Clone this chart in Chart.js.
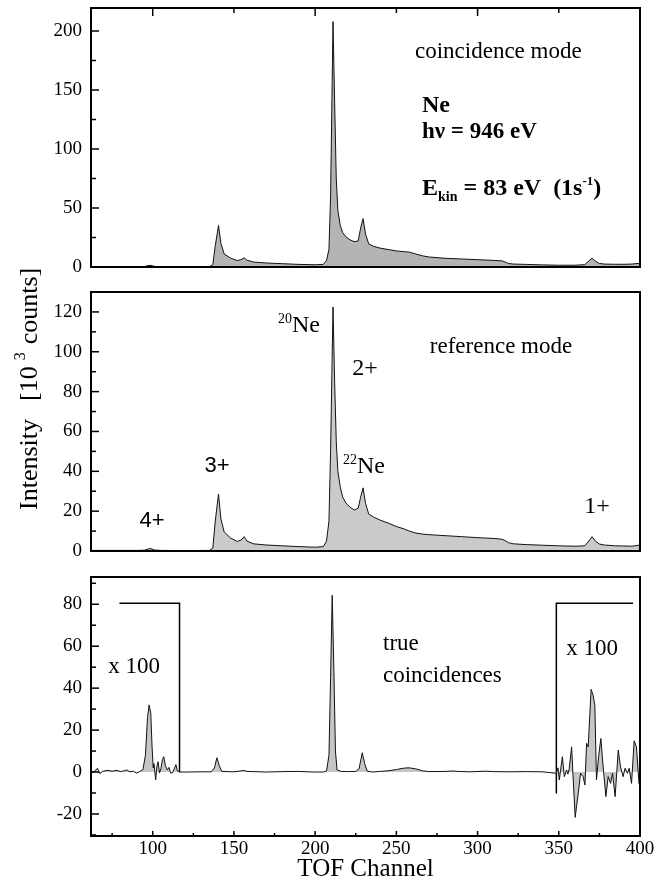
<!DOCTYPE html>
<html><head><meta charset="utf-8">
<script src="https://cdn.jsdelivr.net/npm/chart.js@4"></script>
<style>
html,body{margin:0;padding:0;background:#fff;}
#wrap{position:relative;width:667px;height:883px;overflow:hidden;}
canvas{position:absolute;left:0;}
</style></head><body>
<div id="wrap">
<canvas id="c1" width="667" height="290" style="top:0px"></canvas>
<canvas id="c2" width="667" height="315" style="top:255px"></canvas>
<canvas id="c3" width="667" height="323" style="top:560px"></canvas>
</div>
<script>
// ---------- DATA ----------
const xTicks = [100, 150, 200, 250, 300, 350, 400];
const yTicksCoinc = [0, 50, 100, 150, 200];
const yTicksRef = [0, 20, 40, 60, 80, 100, 120];
const yTicksTrue = [-20, 0, 20, 40, 60, 80];

// TOF channels for the coincidence-mode and reference-mode spectra
const channels = [
  62, 70, 80, 90, 95, 97, 99, 101, 105, 120,
  135, 137, 138.5, 140.5, 142, 144, 148, 152, 154.5, 156.3,
  158, 162, 170, 180, 190, 200, 205, 207, 208.5, 209.5,
  211, 212, 213, 214, 215.5, 217, 219, 221.5, 224, 226.5,
  228, 229.5, 231, 233, 236, 240, 245, 250, 255, 258,
  262, 266, 270, 280, 290, 300, 310, 315, 317, 319,
  322, 330, 340, 350, 360, 366, 368, 370.5, 372.5, 375,
  378, 385, 390, 395, 400
];
// coincidence mode [10^3 counts]
const coincidenceMode = [
  0.2, 0.2, 0.2, 0.2, 0.4, 1.2, 1.4, 0.5, 0.2, 0.2,
  0.3, 2, 18, 35.2, 20, 11, 7.5, 5.5, 6.3, 7.8,
  5.8, 4.2, 3.4, 2.8, 2.2, 1.9, 2.2, 5.5, 15, 60,
  208, 140, 75, 48, 35, 29, 25.5, 23, 21.5, 22,
  33, 41, 28, 19.5, 17.5, 16, 14.8, 13.6, 13, 12.6,
  11, 9.5, 8.5, 7.4, 6.8, 6.2, 5.6, 5.2, 4.2, 3,
  2.5, 2.2, 1.8, 1.5, 1.5, 2, 4.5, 7.5, 5, 3,
  2.5, 2.3, 2.3, 2.5, 3.2
];
// reference mode [10^3 counts]
const referenceMode = [
  0.3, 0.3, 0.3, 0.3, 0.4, 1.0, 1.2, 0.5, 0.3, 0.2,
  0.3, 1.5, 15, 28.6, 16, 9.5, 6.5, 4.8, 5.5, 7.2,
  5, 3.6, 3, 2.6, 2.2, 1.9, 2.2, 5, 15, 50,
  122.5, 85, 55, 40, 32, 27, 24, 22, 20.5, 21.5,
  27, 31.7, 24, 18.5, 17, 15.5, 14, 12.3, 11, 10,
  9, 8.5, 8.2, 7.7, 7.2, 6.7, 6.3, 5.9, 5.2, 4.2,
  3.6, 3.2, 2.9, 2.6, 2.4, 2.6, 4.5, 7.2, 5, 3.5,
  3, 2.6, 2.5, 2.4, 3
];
// TOF channels for the true-coincidence spectrum
const channelsTrue = [
  62, 64, 66, 67.5, 69, 72, 75, 78, 80, 82,
  84, 86, 88, 90, 92, 94, 95.5, 96.8, 97.8, 98.8,
  99.6, 100.3, 100.8, 101.8, 102.5, 103.3, 104.2, 105, 106, 106.8,
  107.8, 109, 110, 111, 112.2, 113.5, 114.3, 115.2, 116.5, 120,
  130, 136, 138, 139.5, 141, 142.5, 150, 154, 156, 158,
  170, 180, 190, 195, 200, 205, 207, 208.5, 209.5, 210.5,
  211.5, 212.5, 213.5, 216, 220, 225, 227, 229, 230.5, 232,
  235, 240, 245, 250, 255, 258, 262, 266, 270, 280,
  285, 288, 295, 305, 310, 320, 330, 340, 348.5, 349.5,
  350.3, 352.2, 353.4, 354.8, 355.6, 356.4, 357.9, 358.9, 360.1, 361,
  362, 363.4, 365, 366.1, 367.1, 368.1, 369.9, 371, 372.2, 373.2,
  374.5, 375.9, 377.3, 379, 380.4, 381.9, 383.1, 384.7, 386.6, 388,
  389.6, 390.8, 392.3, 393.3, 394.8, 396.4, 397.8, 399.4, 400
];
// true coincidences [10^3 counts] (outer regions shown x 100)
const trueCoincidences = [
  0, 0.3, 1.8, -0.8, 0.3, 0.8, 0.4, 0.8, 0.2, 0.5,
  1, 0.1, 0.4, -0.5, 0.2, 1.2, 8, 26, 32, 28,
  12, 2, 4, -3.8, 2.5, 4.9, -0.5, 1.5, 6, 7.3,
  3, 1, 2.2, -0.5, -0.3, 2, 3.5, 0.5, 0, 0,
  0.1, 0.1, 2, 6.8, 3, 0.3, 0.1, 0.5, 0.8, 0.3,
  0, 0.2, 0.3, 0.1, 0, 0, 0.5, 8, 45, 84.3,
  50, 10, 1, 0.3, 0.2, 0.3, 1.5, 9.2, 4, 0.5,
  0, 0.3, 0.6, 1.2, 1.9, 2, 1.5, 0.6, 0.2, 0.3,
  0.5, 0.3, 0.1, 0.4, 0.2, 0.1, 0.2, 0.1, -0.6, 2,
  -3.8, 7.3, -2.2, 1, -1, 1.5, 12, -3.8, -21.6, -16,
  -10.2, -0.6, -2.2, -6.2, 13.7, 12, 39.4, 37, 31.9, -3.8,
  7.3, 16, 2.5, -11.7, -2.2, -5.4, -0.6, -11.7, 10.5, 2.5,
  -2.2, 1.8, -0.6, 1.8, -5.4, 14.9, 12, -5.4, -4
];
// "x 100" bracket markers
const bracketLeftX = [79.5, 116.5, 116.5];
const bracketLeftY = [80.5, 80.5, 0];
const bracketRightX = [395.7, 348.5, 348.5];
const bracketRightY = [80.5, 80.5, -10.2];

// ---------- RENDERING ----------
const FONT = '"Liberation Serif", "Times New Roman", serif';
const SANS = '"Liberation Sans", Arial, sans-serif';
const pts = (xs, ys) => xs.map((v, i) => ({x: v, y: ys[i]}));

function fontOf(p) { return (p.b ? 'bold ' : '') + p.s + 'px ' + (p.sans ? SANS : FONT); }
function drawRich(ctx, t) {
  ctx.save();
  ctx.fillStyle = '#000';
  ctx.textBaseline = 'alphabetic';
  ctx.textAlign = 'left';
  let w = 0;
  t.parts.forEach(p => { ctx.font = fontOf(p); p.w = ctx.measureText(p.t).width; w += p.w + (p.gap || 0); });
  ctx.translate(t.x, t.y);
  if (t.rot) ctx.rotate(-Math.PI / 2);
  let cx = t.align === 'center' ? -w / 2 : (t.align === 'right' ? -w : 0);
  t.parts.forEach(p => { ctx.font = fontOf(p); ctx.fillText(p.t, cx, p.dy || 0); cx += p.w + (p.gap || 0); });
  ctx.restore();
}

const frame = {
  id: 'frame',
  afterDraw(chart, args, o) {
    const {ctx, chartArea: a} = chart;
    const xs = chart.scales.x, ys = chart.scales.y;
    ctx.save();
    ctx.strokeStyle = '#000';
    ctx.lineWidth = 1.5;
    const seg = (x1, y1, x2, y2) => { ctx.beginPath(); ctx.moveTo(x1, y1); ctx.lineTo(x2, y2); ctx.stroke(); };
    for (let v = Math.ceil(ys.min / o.yMinor) * o.yMinor; v <= ys.max + 1e-9; v += o.yMinor) {
      const py = ys.getPixelForValue(v);
      seg(a.left, py, a.left + (o.yMajor.includes(v) ? 8 : 5), py);
    }
    if (o.top) {
      xTicks.slice(0, -1).forEach(v => {
        const px = xs.getPixelForValue(v);
        seg(px, a.top, px, a.top + (v % 100 === 0 ? 8 : 5));
      });
    }
    if (o.bottom) {
      for (let v = 75; v < 400; v += 25) {
        const px = xs.getPixelForValue(v);
        seg(px, a.bottom, px, a.bottom - (v % 50 === 0 ? 5 : 3));
      }
    }
    ctx.lineWidth = 2;
    ctx.strokeRect(a.left, a.top, a.right - a.left, a.bottom - a.top);
    ctx.restore();
    (o.texts || []).forEach(t => drawRich(ctx, t));
  }
};

function makeChart(id, datasets, yMin, yMax, yTicks, frameOpts, padding, showX) {
  return new Chart(document.getElementById(id), {
    type: 'line',
    data: {datasets},
    options: {
      responsive: false, animation: false, devicePixelRatio: 1,
      layout: {padding},
      elements: {point: {radius: 0}, line: {tension: 0}},
      plugins: {legend: {display: false}, tooltip: {enabled: false}, frame: frameOpts},
      scales: {
        x: {
          type: 'linear', min: 62, max: 400, display: showX,
          grid: {display: false, drawTicks: false}, border: {display: false},
          afterBuildTicks: s => { s.ticks = xTicks.map(v => ({value: v})); },
          afterFit: s => { if (showX) s.height = 47; s.paddingLeft = 0; s.paddingRight = 0; },
          ticks: {font: {family: FONT, size: 19}, color: '#000', padding: 2, maxRotation: 0, autoSkip: false},
          title: {display: showX, text: 'TOF Channel', font: {family: FONT, size: 25, lineHeight: 1.1}, color: '#000', padding: 0}
        },
        y: {
          min: yMin, max: yMax,
          grid: {display: false, drawTicks: false}, border: {display: false},
          afterBuildTicks: s => { s.ticks = yTicks.map(v => ({value: v})); },
          afterFit: s => { s.width = 91; s.paddingTop = 0; s.paddingBottom = 0; },
          ticks: {font: {family: FONT, size: 19}, color: '#000', padding: 9, callback: v => String(v)}
        }
      }
    },
    plugins: [frame]
  });
}

const lineDs = (data, fillColor) => ({
  data, borderColor: '#111', borderWidth: 1, backgroundColor: fillColor,
  fill: 'origin', pointRadius: 0
});
const bracketDs = data => ({data, borderColor: '#000', borderWidth: 1.5, fill: false, pointRadius: 0});

makeChart('c1', [lineDs(pts(channels, coincidenceMode), '#b4b4b4')], 0, 219.5, yTicksCoinc, {
  yMinor: 25, yMajor: yTicksCoinc, top: true,
  texts: [
    {x: 415, y: 58, parts: [{t: 'coincidence mode', s: 23}]},
    {x: 422, y: 112, parts: [{t: 'Ne', s: 24, b: 1}]},
    {x: 422, y: 138, parts: [{t: 'hν = 946 eV', s: 23, b: 1}]},
    {x: 422, y: 195, parts: [{t: 'E', s: 24, b: 1}, {t: 'kin', s: 14, b: 1, dy: 6}, {t: ' = 83 eV  (1s', s: 24, b: 1}, {t: '-1', s: 13, b: 1, dy: -10}, {t: ')', s: 24, b: 1}]}
  ]
}, {top: 8, right: 27, bottom: 23, left: 0}, false);

makeChart('c2', [lineDs(pts(channels, referenceMode), '#cacaca')], 0, 130, yTicksRef, {
  yMinor: 10, yMajor: yTicksRef,
  texts: [
    {x: 278, y: 77, parts: [{t: '20', s: 14, dy: -9}, {t: 'Ne', s: 24}]},
    {x: 365, y: 120, align: 'center', parts: [{t: '2+', s: 24}]},
    {x: 501, y: 98, align: 'center', parts: [{t: 'reference mode', s: 23}]},
    {x: 343, y: 218, parts: [{t: '22', s: 14, dy: -9}, {t: 'Ne', s: 24}]},
    {x: 217, y: 217, align: 'center', parts: [{t: '3+', s: 22, sans: 1}]},
    {x: 152, y: 272, align: 'center', parts: [{t: '4+', s: 22, sans: 1}]},
    {x: 597, y: 258, align: 'center', parts: [{t: '1+', s: 24}]},
    {x: 37, y: 255, rot: 1, parts: [{t: 'Intensity', s: 26, gap: 18}, {t: '[10', s: 26, gap: 6}, {t: '3', s: 16, dy: -12, gap: 8}, {t: 'counts]', s: 26}]}
  ]
}, {top: 37, right: 27, bottom: 19, left: 0}, false);

makeChart('c3', [
  lineDs(pts(channelsTrue, trueCoincidences), '#c6c6c6'),
  bracketDs(pts(bracketLeftX, bracketLeftY)),
  bracketDs(pts(bracketRightX, bracketRightY))
], -30.5, 93, yTicksTrue, {
  yMinor: 10, yMajor: yTicksTrue, bottom: true,
  texts: [
    {x: 134, y: 113, align: 'center', parts: [{t: 'x 100', s: 23}]},
    {x: 383, y: 90, parts: [{t: 'true', s: 23}]},
    {x: 383, y: 122, parts: [{t: 'coincidences', s: 23}]},
    {x: 592, y: 95, align: 'center', parts: [{t: 'x 100', s: 23}]}
  ]
}, {top: 17, right: 27, bottom: 0, left: 0}, true);
</script>
</body></html>
